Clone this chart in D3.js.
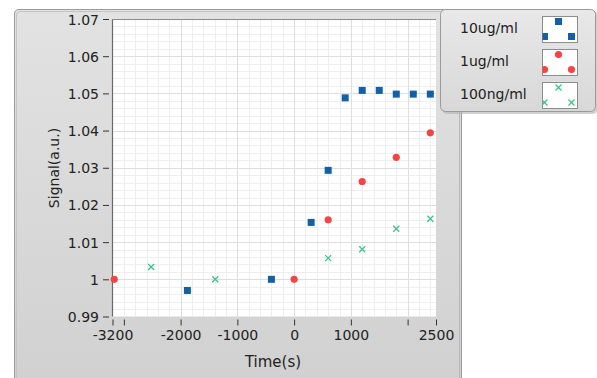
<!DOCTYPE html>
<html><head><meta charset="utf-8">
<script src="https://cdn.jsdelivr.net/npm/d3@7"></script>
<style>
html,body{margin:0;padding:0;background:#fff;}
svg{display:block;font-family:"DejaVu Sans",sans-serif;}
</style></head>
<body><svg id="chart" width="597" height="378"></svg>
<script>
// ---- data ----
const seriesNames = ["10ug/ml", "1ug/ml", "100ng/ml"];
const t10ug = [-1880, -400, 300, 600, 900, 1200, 1500, 1800, 2100, 2400];
const v10ug = [0.9970, 1.0000, 1.0153, 1.0293, 1.0488, 1.0508, 1.0508, 1.0498, 1.0498, 1.0498];
const t1ug = [-3170, 0, 600, 1200, 1800, 2400];
const v1ug = [1.0000, 1.0000, 1.0160, 1.0263, 1.0328, 1.0394];
const t100ng = [-2520, -1390, 600, 1200, 1800, 2400];
const v100ng = [1.0033, 1.0000, 1.0057, 1.0081, 1.0136, 1.0163];
const xTicks = [-3200, -3000, -2000, -1000, 0, 1000, 2000, 2500];
const xTickLabels = ["-3200", "", "-2000", "-1000", "0", "1000", "", "2500"];
const yTicks = [0.99, 1.00, 1.01, 1.02, 1.03, 1.04, 1.05, 1.06, 1.07];
const yTickLabels = ["0.99", "1", "1.01", "1.02", "1.03", "1.04", "1.05", "1.06", "1.07"];
const xLabel = "Time(s)";
const yLabel = "Signal(a.u.)";

const colors = ["#1460a8", "#f54444", "#3cc38c"];
const shapes = ["square", "circle", "cross"];

const svg = d3.select("#chart");
const defs = svg.append("defs");
const pg = defs.append("linearGradient").attr("id","panelG").attr("x1",0).attr("y1",0).attr("x2",0).attr("y2",1);
pg.append("stop").attr("offset","0%").attr("stop-color","#e2e2e2");
pg.append("stop").attr("offset","100%").attr("stop-color","#d0d0d0");
const lg = defs.append("linearGradient").attr("id","legG").attr("x1",0).attr("y1",0).attr("x2",0).attr("y2",1);
lg.append("stop").attr("offset","0%").attr("stop-color","#e8e8e8");
lg.append("stop").attr("offset","100%").attr("stop-color","#d8d8d8");

// panel
svg.append("path")
  .attr("d", "M14.5,400 L14.5,14 Q14.5,9.5 19,9.5 L461.5,9.5 L461.5,400")
  .attr("fill","url(#panelG)").attr("stroke","#9a9a9a").attr("stroke-width",1);
svg.append("path").attr("d","M16.5,400 L16.5,15 Q16.5,11.5 20,11.5 L459.5,11.5")
  .attr("fill","none").attr("stroke","#c4c4c4").attr("stroke-width",1);
svg.append("line").attr("x1",459.5).attr("x2",459.5).attr("y1",12).attr("y2",400).attr("stroke","#b8b8b8");

const L = 112, R = 436, T = 19, B = 316.5;
const x = d3.scaleLinear().domain([-3200, 2500]).range([L + 0.5, R]);
const y = d3.scaleLinear().domain([0.99, 1.07]).range([B, T]);

// plot background
svg.append("rect").attr("x",L).attr("y",T).attr("width",R-L).attr("height",B-T).attr("fill","#ffffff");

// grid
const g = svg.append("g");
const xMinor = d3.range(-3000, 2500, 200).filter(v => v > -3200 && v < 2500);
const xMajor = [-2000, -1000, 0, 1000, 2000];
const yMinor = d3.range(0, 40).map(i => 0.99 + i * 0.002).filter(v => v > 0.9901 && v < 1.0699);
g.selectAll(".xm").data(xMinor).enter().append("line")
  .attr("x1", d => Math.round(x(d)) + 0.5).attr("x2", d => Math.round(x(d)) + 0.5)
  .attr("y1", T).attr("y2", B).attr("stroke", "#efefef");
g.selectAll(".ym").data(yMinor).enter().append("line")
  .attr("y1", d => Math.round(y(d)) + 0.5).attr("y2", d => Math.round(y(d)) + 0.5)
  .attr("x1", L).attr("x2", R).attr("stroke", "#efefef");
g.selectAll(".yM").data(yTicks.slice(1, -1)).enter().append("line")
  .attr("y1", d => Math.round(y(d)) + 0.5).attr("y2", d => Math.round(y(d)) + 0.5)
  .attr("x1", L).attr("x2", R).attr("stroke", "#dedede");
g.selectAll(".xM").data(xMajor).enter().append("line")
  .attr("x1", d => Math.round(x(d)) + 0.5).attr("x2", d => Math.round(x(d)) + 0.5)
  .attr("y1", T).attr("y2", B).attr("stroke", "#dedede");

// frame (left & top)
svg.append("line").attr("x1",L+0.5).attr("x2",L+0.5).attr("y1",T).attr("y2",B).attr("stroke","#6a6a6a").attr("stroke-width",1.2);
svg.append("line").attr("x1",L).attr("x2",R).attr("y1",T+0.5).attr("y2",T+0.5).attr("stroke","#8a8a8a").attr("stroke-width",1.2);

// y axis
const yAxis = d3.axisLeft(y).tickValues(yTicks).tickSize(6).tickPadding(4)
  .tickFormat((d, i) => yTickLabels[i]);
const ya = svg.append("g").attr("transform", `translate(${L - 3},0)`).call(yAxis);
ya.select(".domain").remove();
ya.selectAll(".tick line").attr("stroke", "#333");
ya.selectAll(".tick text").attr("font-size", 14).attr("fill", "#222")
  .attr("font-family", "DejaVu Sans").attr("dy", "0.36em");

// x axis
const xAxis = d3.axisBottom(x).tickValues(xTicks).tickSize(6).tickPadding(5)
  .tickFormat((d, i) => xTickLabels[i]);
const xa = svg.append("g").attr("transform", `translate(0,${B + 3})`).call(xAxis);
xa.select(".domain").remove();
xa.selectAll(".tick line").attr("stroke", "#333");
xa.selectAll(".tick text").attr("font-size", 14).attr("fill", "#222").attr("font-family", "DejaVu Sans");

// axis titles
svg.append("text").attr("x", (L + R) / 2 - 1).attr("y", 367).attr("text-anchor","middle")
  .attr("font-size", 15).attr("fill","#222").text(xLabel);
svg.append("text").attr("transform", `translate(59,${168}) rotate(-90)`).attr("text-anchor","middle")
  .attr("font-size", 14).attr("fill","#222").text(yLabel);

// markers
function drawMarker(sel, shape, color) {
  if (shape === "square") {
    sel.append("rect").attr("x",-3.5).attr("y",-3.5).attr("width",7).attr("height",7).attr("fill",color);
  } else if (shape === "circle") {
    sel.append("circle").attr("r",3.6).attr("fill",color);
  } else {
    sel.append("path").attr("d","M-3,-3L3,3M-3,3L3,-3").attr("stroke",color).attr("stroke-width",1.3).attr("fill","none");
  }
}
const allSeries = [
  {t: t10ug, v: v10ug}, {t: t1ug, v: v1ug}, {t: t100ng, v: v100ng}
];
// draw order: 100ng, 10ug, 1ug
[2, 0, 1].forEach(si => {
  const s = allSeries[si];
  const grp = svg.append("g");
  s.t.forEach((tv, i) => {
    const m = grp.append("g").attr("transform", `translate(${x(tv)},${y(s.v[i])})`);
    drawMarker(m, shapes[si], colors[si]);
  });
});

// legend
const lgX = 440.5, lgY = 9.5;
svg.append("rect").attr("x",lgX+1.5).attr("y",lgY+1.5).attr("width",156).attr("height",103).attr("rx",5)
  .attr("fill","#b0b0b0").attr("opacity",0.6);
svg.append("rect").attr("x",lgX).attr("y",lgY).attr("width",155).attr("height",102).attr("rx",5)
  .attr("fill","url(#legG)").attr("stroke","#9a9a9a");
const rowY = [16, 49, 82];
seriesNames.forEach((name, i) => {
  svg.append("text").attr("x", 460).attr("y", rowY[i] + 17).attr("font-size", 14).attr("fill","#222").text(name);
  const bx = 542.5, by = rowY[i] + 0.5, bw = 35, bh = 26;
  const cid = "clip" + i;
  defs.append("clipPath").attr("id", cid).append("rect").attr("x", bx).attr("y", by).attr("width", bw).attr("height", bh);
  svg.append("rect").attr("x", bx).attr("y", by).attr("width", bw).attr("height", bh)
    .attr("fill","#ffffff").attr("stroke","#8c8c8c");
  const mg = svg.append("g").attr("clip-path", `url(#${cid})`);
  [[bx + 2, by + 20], [bx + 16, by + 5], [bx + 29, by + 20]].forEach(p => {
    const m = mg.append("g").attr("transform", `translate(${p[0]},${p[1]})`);
    drawMarker(m, shapes[i], colors[i]);
  });
});
</script></body></html>
